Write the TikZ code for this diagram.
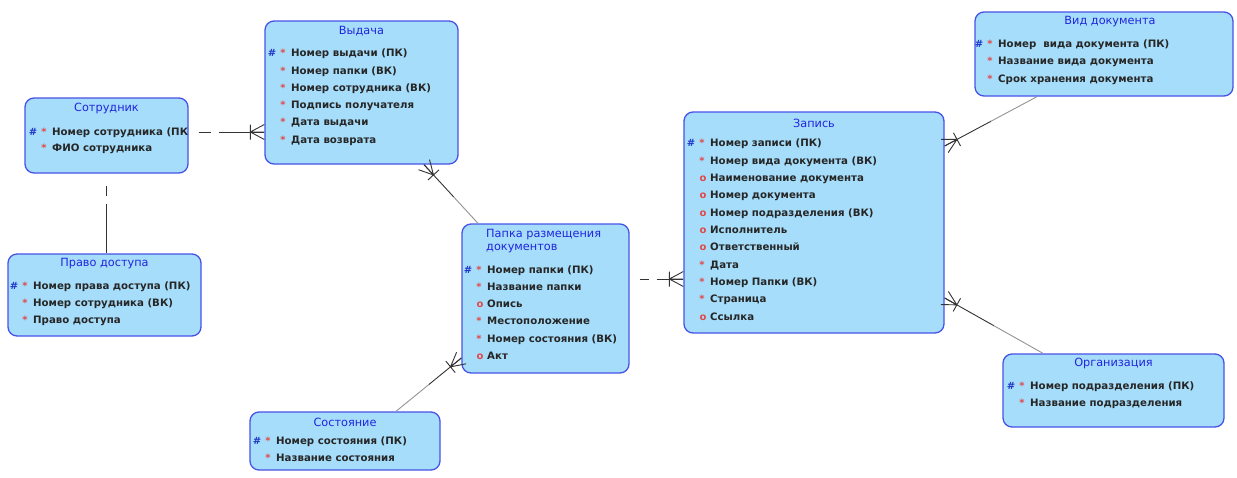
\documentclass[tikz,border=0pt]{standalone}
\usepackage{fontspec}
\usetikzlibrary{calc}
\newfontfamily\erfont{DejaVu Sans}

\definecolor{boxfill}{RGB}{166,221,250}
\definecolor{boxline}{RGB}{72,82,232}
\definecolor{titleblue}{RGB}{32,36,222}
\definecolor{hashblue}{RGB}{30,52,200}
\definecolor{starred}{RGB}{226,72,72}

\tikzset{
  ebox/.style={draw=boxline, fill=boxfill, line width=1.3pt, rounded corners=9pt, inner sep=0pt},
  etitle/.style={font=\erfont\fontsize{11.3}{13}\selectfont, text=titleblue, inner sep=0pt},
  erow/.style={font=\erfont\bfseries\fontsize{10.2}{12}\selectfont, text=black!85, anchor=base west, inner sep=0pt},
  emark/.style={font=\erfont\bfseries\fontsize{10}{12}\selectfont, anchor=base, inner sep=0pt},
  rel/.style={draw=black!80, line width=0.9pt},
  relopt/.style={draw=black!42, line width=0.9pt},
}

% entity box: name, left, top, right, bottom
\newcommand\erbox[5]{%
  \node[ebox, minimum width={#4-#2}, minimum height={#5-#3}] (#1) at ({(#2+#4)/2},{(#3+#5)/2}) {};}

% attribute markers: primary key, mandatory, optional
\newcommand\mP[2]{%
  \node[emark, text=hashblue] (#1-h#2) at ([xshift=-19pt]#1-r#2.base west) {\#};
  \node[emark, text=starred] (#1-s#2) at ([xshift=-8pt]#1-r#2.base west) {*};}
\newcommand\mM[2]{%
  \node[emark, text=starred] (#1-s#2) at ([xshift=-8pt]#1-r#2.base west) {*};}
\newcommand\mO[2]{%
  \node[emark, text=starred] (#1-o#2) at ([xshift=-7pt]#1-r#2.base west) {o};}

% attribute rows: entity, text x, first row y, row spacing, list of marker/text
\newcommand\erows[5]{%
  \foreach \k/\txt [count=\i] in {#5} {
    \pgfmathsetmacro\yy{#3+(\i-1)*#4+3.7}
    \node[erow] (#1-r\i) at (#2,\yy) {\txt};
    \k{#1}{\i}
  }}

% crow's foot with bar at the edge point #1, pointing to #2
\newcommand\crowfoot[2]{%
  \coordinate (#1-k) at ($(#1)!14pt!(#2)$);
  \draw[rel] (#1-k) -- ($(#1)!7.5pt!90:(#2)$)
             (#1-k) -- (#1)
             (#1-k) -- ($(#1)!7.5pt!-90:(#2)$)
             ($(#1-k)!7.5pt!90:(#2)$) -- ($(#1-k)!7.5pt!-90:(#2)$);}

\begin{document}
\begin{tikzpicture}[x=1pt, y=-1pt]
\fill[white] (0,0) rectangle (1237,477);
\useasboundingbox (0,0) rectangle (1237,477);

% ---- entities ----
\erbox{sotr}{25}{98}{188}{173}
\node[etitle] (sotr-t) at (106.5,108) {Сотрудник};
\erows{sotr}{52}{132}{16}{\mP/Номер сотрудника (ПК, \mM/ФИО сотрудника}

\erbox{pravo}{8}{254}{201}{336}
\node[etitle] (pravo-t) at (104.5,264) {Право доступа};
\erows{pravo}{33}{286}{17}{\mP/Номер права доступа (ПК), \mM/Номер сотрудника (ВК), \mM/Право доступа}

\erbox{vyd}{265}{21}{458}{164}
\node[etitle] (vyd-t) at (361.5,31) {Выдача};
\erows{vyd}{291}{53}{17.3}{\mP/Номер выдачи (ПК), \mM/Номер папки (ВК), \mM/Номер сотрудника (ВК),
  \mM/Подпись получателя, \mM/Дата выдачи, \mM/Дата возврата}

\erbox{papka}{462}{224}{629}{373}
\node[etitle, anchor=west, align=left] (papka-t) at (486,241.5) {Папка размещения\\документов};
\erows{papka}{487}{269.3}{17.3}{\mP/Номер папки (ПК), \mM/Название папки, \mO/Опись,
  \mM/Местоположение, \mM/Номер состояния (ВК), \mO/Акт}

\erbox{sost}{250}{412}{440}{470}
\node[etitle] (sost-t) at (345,422) {Состояние};
\erows{sost}{276}{441}{17}{\mP/Номер состояния (ПК), \mM/Название состояния}

\erbox{zap}{684}{112}{944}{333}
\node[etitle] (zap-t) at (814,123) {Запись};
\erows{zap}{710}{143}{17.35}{\mP/Номер записи (ПК), \mM/Номер вида документа (ВК),
  \mO/Наименование документа, \mO/Номер документа, \mO/Номер подразделения (ВК),
  \mO/Исполнитель, \mO/Ответственный, \mM/Дата, \mM/Номер Папки (ВК), \mM/Страница, \mO/Ссылка}

\erbox{vid}{975}{12}{1233}{96}
\node[etitle] (vid-t) at (1110,22) {Вид документа};
\erows{vid}{998}{43.3}{17.8}{\mP/Номер~ вида документа (ПК), \mM/Название вида документа,
  \mM/Срок хранения документа}

\erbox{org}{1003}{354}{1224}{427}
\node[etitle] (org-t) at (1113.5,363) {Организация};
\erows{org}{1030}{386}{17}{\mP/Номер подразделения (ПК), \mM/Название подразделения}

% ---- relationships ----
% Сотрудник -- Выдача
\coordinate (r1a) at ($(sotr.east)+(0,-3.5)$);
\coordinate (r1b) at (r1a -| vyd.west);
\draw[rel] ($(r1a)!10pt!(r1b)$) -- ($(r1a)!22pt!(r1b)$);
\draw[rel] ($(r1a)!30pt!(r1b)$) -- (r1b);
\crowfoot{r1b}{r1a}

% Сотрудник -- Право доступа
\coordinate (r2a) at (sotr.south);
\coordinate (r2b) at (r2a |- pravo.north);
\draw[rel] ($(r2a)!12pt!(r2b)$) -- ($(r2a)!22pt!(r2b)$);
\draw[rel] ($(r2a)!30pt!(r2b)$) -- (r2b);

% Папка -- Запись
\coordinate (r4a) at ($(papka.east)+(0,-19.5)$);
\coordinate (r4b) at (r4a -| zap.west);
\draw[rel] ($(r4a)!10pt!(r4b)$) -- ($(r4a)!19pt!(r4b)$);
\draw[rel] ($(r4a)!27pt!(r4b)$) -- (r4b);
\crowfoot{r4b}{r4a}

% Выдача -- Папка
\coordinate (r3a) at ($(vyd.south)+(62.5,0)$);
\coordinate (r3b) at ($(papka.north)+(-67.5,0)$);
\draw[rel] (r3a) -- ($(r3a)!0.55!(r3b)$);
\draw[relopt] ($(r3a)!0.55!(r3b)$) -- (r3b);
\crowfoot{r3a}{r3b}

% Папка -- Состояние
\coordinate (r5a) at ($(papka.west)+(0,59.5)$);
\coordinate (r5b) at ($(sost.north)+(51,0)$);
\draw[rel] (r5a) -- ($(r5a)!0.5!(r5b)$);
\draw[relopt] ($(r5a)!0.5!(r5b)$) -- (r5b);
\crowfoot{r5a}{r5b}

% Запись -- Вид документа
\coordinate (r6a) at ($(zap.east)+(0,-76.5)$);
\coordinate (r6b) at ($(vid.south)+(-67,0)$);
\draw[rel] (r6a) -- ($(r6a)!0.5!(r6b)$);
\draw[relopt] ($(r6a)!0.5!(r6b)$) -- (r6b);
\crowfoot{r6a}{r6b}

% Запись -- Организация
\coordinate (r7a) at ($(zap.east)+(0,75.5)$);
\coordinate (r7b) at ($(org.north)+(-70.5,0)$);
\draw[rel] (r7a) -- ($(r7a)!0.5!(r7b)$);
\draw[relopt] ($(r7a)!0.5!(r7b)$) -- (r7b);
\crowfoot{r7a}{r7b}
\end{tikzpicture}
\end{document}
